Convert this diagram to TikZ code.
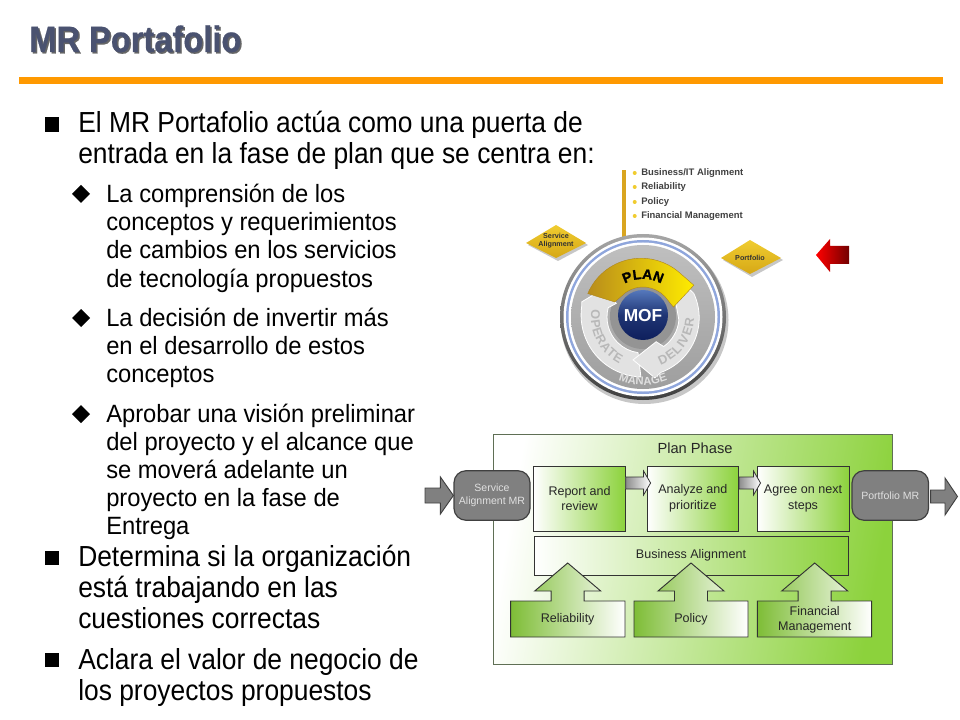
\documentclass[tikz,border=0pt]{standalone}
\usepackage{fontspec}
\setmainfont{Liberation Sans}
\newfontfamily\bodyfont[FakeStretch=0.91]{Liberation Sans}
\newfontfamily\subfont[FakeStretch=0.95]{Liberation Sans}
\newfontfamily\titlefont[FakeStretch=0.89,FakeBold=0.5]{Liberation Sans Bold}
\newfontfamily\heavyfont[FakeBold=1.2]{Liberation Sans Bold}
\usetikzlibrary{calc,decorations.text}
\definecolor{leaf}{HTML}{8CD23C}
\definecolor{rulecol}{HTML}{FF9900}
\definecolor{titlecol}{HTML}{4A5270}
\definecolor{gold}{HTML}{D9A520}
\definecolor{gemlight}{HTML}{F0CC30}
\definecolor{gemdark}{HTML}{D6A816}
\definecolor{paleband}{HTML}{E2E2E2}
\definecolor{ringblue}{HTML}{8FA6DC}
\definecolor{panelline}{HTML}{5F6F55}
\definecolor{balltop}{HTML}{5578BC}
\definecolor{ballbottom}{HTML}{0E1F5C}
\tikzset{
  x=0.75pt,y=-0.75pt,
  mainline/.style={anchor=base west,inner sep=0pt,font=\bodyfont\fontsize{21.75}{24}\selectfont,text=black},
  subline/.style={anchor=base west,inner sep=0pt,font=\subfont\fontsize{18.75}{21}\selectfont,text=black},
  panel/.style={draw=panelline,line width=1.1pt,left color=white,right color=leaf,shading angle=80},
  stepbox/.style={draw=black!80,line width=0.7pt,left color=white,right color=leaf,align=center,inner sep=0pt,
     font=\fontsize{9.4}{11.8}\selectfont,text=black!85},
  roundbox/.style={draw=black!75,line width=0.9pt,fill=black!50,rounded corners=9pt,align=center,inner sep=0pt,
     font=\fontsize{7.9}{10}\selectfont,text=black!12},
  flowgray/.style={draw=black!75,line width=0.7pt,fill=black!50},
  flowlight/.style={draw=black!80,line width=0.6pt,left color=black!45,right color=white},
  liftarrow/.style={draw=black!80,line width=0.7pt,left color=leaf!90!black,right color=white},
  plain/.style={inner sep=0pt,text=black!85,font=\fontsize{9.4}{11.3}\selectfont,align=center},
  mofitem/.style={anchor=base west,inner sep=0pt,text=black!75,font=\bfseries\fontsize{7.1}{9}\selectfont},
  gem/.style={draw=none,top color=gemlight,bottom color=gemdark},
  gemtext/.style={inner sep=0pt,align=center,text=black!80,font=\bfseries\fontsize{5.4}{6.2}\selectfont},
}
% horizontal block arrow: style, tail, tip, head length, stem half, head half
\newcommand{\flowarrow}[6]{%
  \path[#1] ($(#2)+(0,-#5)$) -- ($(#3)+(-#4,-#5)$) -- ($(#3)+(-#4,-#6)$) -- (#3)
     -- ($(#3)+(-#4,#6)$) -- ($(#3)+(-#4,#5)$) -- ($(#2)+(0,#5)$) -- cycle;}
% box with lifting arrow: x1 x2 tipx (box from y 601 to 637)
\newcommand{\liftbox}[3]{%
  \path[liftarrow] (#1,601) -- ({#3-16.5},601) -- ({#3-16.5},591) -- ({#3-33},591) -- (#3,563)
     -- ({#3+33},591) -- ({#3+16.5},591) -- ({#3+16.5},601) -- (#2,601) -- (#2,637) -- (#1,637) -- cycle;}
\newcommand{\squarebullet}[1]{\fill[black] (44.5,{#1-7.2}) rectangle (58.5,{#1+7.2});}
\newcommand{\diamondbullet}[1]{\fill[black] (72,#1) -- (81,{#1-9}) -- (90,#1) -- (81,{#1+9}) -- cycle;}
\begin{document}
\begin{tikzpicture}
\useasboundingbox (0,0) rectangle (960,720);
% title and rule
\node[anchor=base west,inner sep=0pt,text=black!60,font=\titlefont\fontsize{27.5}{30}\selectfont] (titleshadow) at (30.5,53.5) {MR Portafolio};
\node[anchor=base west,inner sep=0pt,text=titlecol,font=\titlefont\fontsize{27.5}{30}\selectfont] (title) at (29,52) {MR Portafolio};
\fill[rulecol] (19,77.5) rectangle (943,84);
% text
\squarebullet{124.5}
\node[mainline] (m1) at (78,133) {El MR Portafolio actúa como una puerta de};
\node[mainline] (m2) at (78,164) {entrada en la fase de plan que se centra en:};
\diamondbullet{194}
\node[subline] (s1) at (106,203) {La comprensión de los};
\node[subline] (s2) at (106,231) {conceptos y requerimientos};
\node[subline] (s3) at (106,259) {de cambios en los servicios};
\node[subline] (s4) at (106,287) {de tecnología propuestos};
\diamondbullet{318}
\node[subline] (s5) at (106,326) {La decisión de invertir más};
\node[subline] (s6) at (106,354) {en el desarrollo de estos};
\node[subline] (s7) at (106,382) {conceptos};
\diamondbullet{414}
\node[subline] (s8) at (106,422) {Aprobar una visión preliminar};
\node[subline] (s9) at (106,450) {del proyecto y el alcance que};
\node[subline] (s10) at (106,478) {se moverá adelante un};
\node[subline] (s11) at (106,506) {proyecto en la fase de};
\node[subline] (s12) at (106,534) {Entrega};
\squarebullet{558}
\node[mainline] (m3) at (78,566) {Determina si la organización};
\node[mainline] (m4) at (78,597) {está trabajando en las};
\node[mainline] (m5) at (78,628) {cuestiones correctas};
\squarebullet{660}
\node[mainline] (m6) at (78,669) {Aclara el valor de negocio de};
\node[mainline] (m7) at (78,700) {los proyectos propuestos};
% MOF graphic
\fill[gold] (621.5,170) rectangle (625.5,262);
\foreach \yy/\nm/\tx in {173/a/Business\slash IT Alignment,187/b/Reliability,202/c/Policy,216/d/Financial Management}{
  \fill[gemlight] (634.7,\yy) circle (2);
  \node[mofitem] (item\nm) at (641,{\yy+3}) {\tx};
}
\fill[black!22] (528,245) -- (558,227) -- (588,245) -- (558,261) -- cycle;
\path[gem] (526,243) -- (556,225) -- (586,243) -- (556,258) -- cycle;
\node[gemtext] (gemA) at (556,241) {Service\\Alignment};
\fill[black!22] (723,260) -- (752,242) -- (783,260) -- (752,277) -- cycle;
\path[gem] (721,258) -- (750,240) -- (781,258) -- (750,274) -- cycle;
\node[gemtext] (gemB) at (750,258) {Portfolio};
\path[left color=red,right color=red!45!black] (816,255) -- (830,239) -- (830,246) -- (849,246) -- (849,264) -- (830,264) -- (830,272) -- cycle;
\begin{scope}[shift={(643,317)},x=0.75pt,y=0.75pt]
  \fill[black!22] (1.5,-3) circle (84);
  \shade[top color=black!35,bottom color=black!75] (0,0) circle (83);
  \fill[white] (0,0) circle (79.5);
  \fill[ringblue] (0,0) circle (77);
  \fill[white] (0,0) circle (74.5);
  \shade[top color=black!25,bottom color=black!38] (0,0) circle (72);
  \fill[black!42] (0,1) circle (33);
  % operate band
  \path[fill=paleband,draw=white,line width=0.6pt]
     (268:60) arc (268:172:62) -- (166:63) -- (143:48) -- (153:30) -- (165:36)
     arc (165:262:36) -- cycle;
  % deliver band
  \path[fill=paleband,draw=white,line width=0.6pt]
     (25:36) -- (43:52) -- (25:56) arc (25:-70:58) -- (-79:62) -- (-103:44) -- (-62:28) -- (-55:36)
     arc (-55:-5:36) -- cycle;
  % plan band
  \path[left color=gold!85!black,right color=yellow!85!orange,draw=gold!80!black,line width=0.3pt]
     (157:60) arc (157:50:58) -- (32:60) -- (18:32) -- (43:30) arc (43:125:30) -- (152:32) -- cycle;
  \path[postaction={decorate},decoration={text along path,text align=center,
     text={|\heavyfont\fontsize{10.5}{12}\selectfont|PLAN}}] (140:38) arc (140:40:38);
  \path[postaction={decorate},decoration={text along path,text align=fit to path,
     text color=black!28,text={|\bfseries\fontsize{9.5}{10}\selectfont|OPERATE}}] (172:52) arc (172:243:52);
  \path[postaction={decorate},decoration={text along path,text align=fit to path,
     text color=black!28,text={|\bfseries\fontsize{9.5}{10}\selectfont|DELIVER}}] (-70:51) arc (-70:-2:51);
  \path[postaction={decorate},decoration={text along path,text align=center,
     text color=black!12,text={|\bfseries\fontsize{8.5}{10}\selectfont|MANAGE}}] (245:68) arc (245:295:68);
  \shade[top color=balltop,bottom color=ballbottom,middle color=ballbottom!75!balltop] (0,2) circle (25);
  \node[inner sep=0pt,text=white,font=\bfseries\fontsize{13}{14}\selectfont] (mof) at (0,1) {MOF};
\end{scope}
% plan phase diagram
\node[panel,minimum width={399*0.75pt},minimum height={230*0.75pt},anchor=north west] (phase) at (492.7,434) {};
\node[plain,font=\fontsize{11}{13}\selectfont] (phasetitle) at (695,448) {Plan Phase};
\node[stepbox,minimum width={91.5*0.75pt},minimum height={65*0.75pt}] (report) at (579.5,498.5) {Report and\\review};
\node[stepbox,minimum width={91.5*0.75pt},minimum height={65*0.75pt}] (analyze) at (692.8,498.5) {Analyze and\\prioritize};
\node[stepbox,minimum width={92*0.75pt},minimum height={65*0.75pt}] (agree) at (803,498.5) {Agree on next\\steps};
\node[stepbox,minimum width={314*0.75pt},minimum height={39*0.75pt}] (business) at (691,555.5) {\raisebox{3pt}{Business Alignment}};
\flowarrow{flowlight}{$(report.east)+(0,-15.5)$}{$(analyze.west)+(4,-15.5)$}{7}{6}{12}
\flowarrow{flowlight}{$(analyze.east)+(0,-15.5)$}{$(agree.west)+(4,-15.5)$}{7}{6}{12}
\liftbox{510.7}{625}{567.7}
\liftbox{634}{748}{691}
\liftbox{757.3}{871.7}{814.7}
\node[plain] (rel) at (567.7,619) {Reliability};
\node[plain] (pol) at (691,619) {Policy};
\node[plain] (fin) at (814.7,619.5) {Financial\\Management};
\node[roundbox,minimum width={76*0.75pt},minimum height={49.5*0.75pt}] (samr) at (492,495.5) {Service\\Alignment MR};
\node[roundbox,minimum width={76.5*0.75pt},minimum height={49.5*0.75pt}] (pmr) at (890.3,495.5) {Portfolio MR};
\coordinate (intail) at (425,495.5);
\coordinate (outtip) at (957.5,496.5);
\flowarrow{flowgray}{intail}{samr.west}{13}{7.5}{18.5}
\flowarrow{flowgray}{$(pmr.east)+(1.5,1)$}{outtip}{12.5}{6.5}{18.5}
\end{tikzpicture}
\end{document}
